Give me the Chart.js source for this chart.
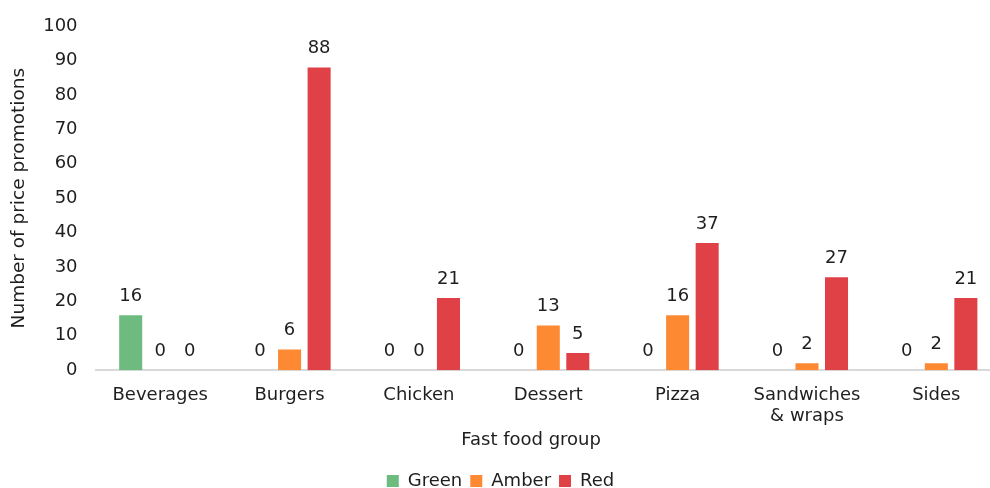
<!DOCTYPE html>
<html>
<head>
<meta charset="utf-8">
<script src="https://cdn.jsdelivr.net/npm/chart.js@4.4.1/dist/chart.umd.min.js"></script>
<style>
  html, body { margin: 0; padding: 0; background: #fff; overflow: hidden; }
  #wrap { position: relative; width: 1014px; height: 500px; }
</style>
</head>
<body>
<div id="wrap"><canvas id="promoChart"></canvas></div>
<script>
// fast food groups and promotion counts per traffic-light rating
const groups = ['Beverages', 'Burgers', 'Chicken', 'Dessert', 'Pizza', ['Sandwiches', '& wraps'], 'Sides']
const greenValues = [16, 0, 0, 0, 0, 0, 0]
const amberValues = [0, 6, 0, 13, 16, 2, 2]
const redValues = [0, 88, 21, 5, 37, 27, 21]
const yTicks = [0, 10, 20, 30, 40, 50, 60, 70, 80, 90, 100]

const FONT = 'DejaVu Sans, Verdana, sans-serif'
const TEXT = '#1e1e1e'

// value labels above each bar (zeros included)
const barValues = {
  id: 'barValues',
  afterDatasetsDraw(chart) {
    const ctx = chart.ctx
    ctx.save()
    ctx.font = '18px ' + FONT
    ctx.fillStyle = TEXT
    ctx.textAlign = 'center'
    ctx.textBaseline = 'bottom'
    chart.data.datasets.forEach((ds, i) => {
      chart.getDatasetMeta(i).data.forEach((bar, j) => {
        ctx.fillText(String(ds.data[j]), bar.x, bar.y - 10)
      })
    })
    ctx.restore()
  }
}

const canvas = document.getElementById('promoChart')
new Chart(canvas, {
  type: 'bar',
  data: {
    labels: groups,
    datasets: [
      { label: 'Green', data: greenValues, backgroundColor: '#6dbb7e' },
      { label: 'Amber', data: amberValues, backgroundColor: '#fd8a33' },
      { label: 'Red', data: redValues, backgroundColor: '#e04146' }
    ]
  },
  options: {
    responsive: true,
    maintainAspectRatio: false,
    animation: false,
    categoryPercentage: 0.685,
    barPercentage: 0.78,
    layout: { padding: { left: 0, right: 13, top: 4, bottom: 0 } },
    plugins: {
      legend: {
        position: 'bottom',
        labels: {
          font: { family: FONT, size: 18 },
          color: TEXT,
          boxWidth: 12,
          boxHeight: 12,
          padding: 8
        }
      },
      tooltip: { enabled: false }
    },
    scales: {
      x: {
        grid: { display: false, drawTicks: false },
        border: { color: '#d9d9d9', width: 2 },
        ticks: { font: { family: FONT, size: 18 }, color: TEXT, padding: 14, maxRotation: 0, autoSkip: false },
        title: {
          display: true,
          text: 'Fast food group\u00a0\u00a0\u00a0\u00a0\u00a0\u00a0',
          font: { family: FONT, size: 18 },
          color: TEXT,
          padding: { top: -12, bottom: 13 }
        }
      },
      y: {
        min: 0,
        max: 100,
        afterBuildTicks(axis) { axis.ticks = yTicks.map(v => ({ value: v })) },
        grid: { display: false, drawTicks: false },
        border: { display: false },
        ticks: { font: { family: FONT, size: 18, lineHeight: 0.9 }, color: TEXT, padding: 18 },
        title: {
          display: true,
          text: 'Number of price promotions',
          font: { family: FONT, size: 18.5 },
          color: TEXT,
          padding: { top: 8, bottom: -5 }
        }
      }
    }
  },
  plugins: [barValues]
})
</script>
</body>
</html>
